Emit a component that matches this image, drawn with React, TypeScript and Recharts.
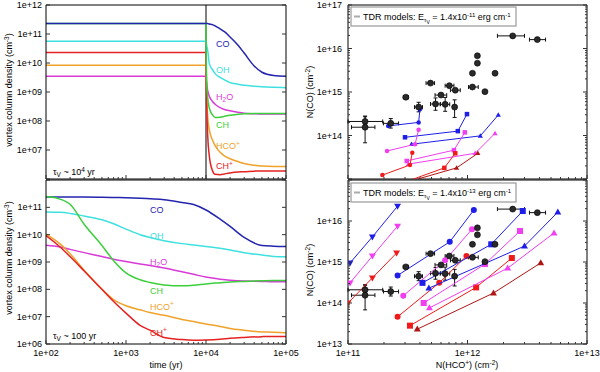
import React from 'react';
import { LineChart, Line, XAxis, YAxis, ReferenceLine, ScatterChart, Scatter, ErrorBar } from 'recharts';

const FONT = "'Liberation Sans', Arial, Helvetica, sans-serif";
const TICK = '#333';

// ---------------- time evolution panels ----------------
const timeTop = [100, 10000, 10050, 10200, 10500, 11000, 12000, 13000, 15000, 17000, 20000, 25000, 30000, 40000, 50000, 70000, 100000];
const coTop = [2.3e11, 2.3e11, 2.3e11, 2.3e11, 2.3e11, 2.2e11, 2.1e11, 1.9e11, 1.5e11, 1.2e11, 7.9e10, 4.2e10, 2.2e10, 7.9e9, 4.8e9, 3.7e9, 3.5e9];
const ohTop = [5.6e10, 5.6e10, 5.2e10, 4.0e10, 2.75e10, 9.5e9, 6.0e9, 4.3e9, 3.2e9, 2.6e9, 2.1e9, 1.86e9, 1.7e9, 1.58e9, 1.51e9, 1.45e9, 1.41e9];
const h2oTop = [3.5e9, 3.5e9, 2.8e9, 1.8e9, 1.12e9, 7.1e8, 4.8e8, 3.8e8, 2.9e8, 2.5e8, 2.24e8, 2.0e8, 1.86e8, 1.78e8, 1.74e8, 1.74e8, 1.74e8];
const chTop = [2.3e11, 2.3e11, 2.0e10, 2.5e9, 6.3e8, 2.8e8, 1.66e8, 1.32e8, 1.35e8, 1.45e8, 1.58e8, 1.7e8, 1.78e8, 1.82e8, 1.82e8, 1.82e8, 1.82e8];
const hcoTop = [8.3e9, 8.3e9, 4.0e9, 6.3e8, 1.41e8, 5.0e7, 2.24e7, 1.41e7, 8.3e6, 6.3e6, 5.0e6, 4.0e6, 3.4e6, 3.0e6, 2.8e6, 2.7e6, 2.7e6];
const chpTop = [2.3e10, 2.3e10, 6.3e9, 4.0e8, 3.2e7, 6.3e6, 2.0e6, 1.45e6, 1.41e6, 1.5e6, 1.62e6, 1.74e6, 1.78e6, 1.86e6, 1.9e6, 1.9e6, 1.9e6];

const timeBot = [100, 150, 200, 300, 500, 700, 1000, 1500, 2000, 3000, 5000, 7000, 10000, 15000, 20000, 30000, 50000, 70000, 100000];
const coBot = [2.4e11, 2.4e11, 2.4e11, 2.4e11, 2.35e11, 2.3e11, 2.25e11, 2.15e11, 2.05e11, 1.9e11, 1.5e11, 1.26e11, 8.0e10, 3.7e10, 2.0e10, 7.9e9, 4.0e9, 3.8e9, 3.7e9];
const ohBot = [6.8e10, 6.6e10, 6.0e10, 4.8e10, 3.5e10, 2.5e10, 1.6e10, 1.0e10, 7.9e9, 6.0e9, 4.7e9, 4.2e9, 3.7e9, 3.2e9, 2.75e9, 2.2e9, 1.8e9, 1.6e9, 1.55e9];
const h2oBot = [4.1e9, 3.55e9, 2.9e9, 2.2e9, 1.58e9, 1.26e9, 1.05e9, 8.5e8, 7.4e8, 6.0e8, 4.4e8, 3.55e8, 2.8e8, 2.35e8, 2.15e8, 2.0e8, 1.95e8, 1.9e8, 1.9e8];
const chBot = [2.5e11, 2.0e11, 1.3e11, 2.4e10, 4.0e9, 1.12e9, 4.0e8, 2.24e8, 1.78e8, 1.45e8, 1.35e8, 1.41e8, 1.58e8, 1.74e8, 1.86e8, 1.95e8, 2.05e8, 2.1e8, 2.1e8];
const hcoBot = [1.05e10, 4.6e9, 2.0e9, 5.0e8, 1.0e8, 4.2e7, 2.5e7, 1.78e7, 1.41e7, 1.12e7, 7.9e6, 6.6e6, 5.4e6, 4.4e6, 3.7e6, 3.2e6, 2.75e6, 2.7e6, 2.6e6];
const chpBot = [9.3e9, 3.55e9, 1.58e9, 4.7e8, 1.0e8, 3.6e7, 1.35e7, 4.8e6, 3.2e6, 1.74e6, 1.45e6, 1.38e6, 1.41e6, 1.5e6, 1.62e6, 1.74e6, 1.86e6, 1.9e6, 1.9e6];

// ---------------- tick definitions ----------------
const LEFT_X_MAJOR = [100, 1000, 10000, 100000];
const LEFT_X_LABELS = ['1e+02', '1e+03', '1e+04', '1e+05'];
const LEFT_X_MINOR = [200, 300, 400, 500, 600, 700, 800, 900, 2000, 3000, 4000, 5000, 6000, 7000, 8000, 9000, 20000, 30000, 40000, 50000, 60000, 70000, 80000, 90000];
const LEFT_Y_MAJOR = [1e6, 1e7, 1e8, 1e9, 1e10, 1e11, 1e12];
const TOP_LEFT_Y_LABELS = ['', '1e+07', '1e+08', '1e+09', '1e+10', '1e+11', '1e+12'];
const BOT_LEFT_Y_LABELS = ['1e+06', '1e+07', '1e+08', '1e+09', '1e+10', '1e+11', ''];

const RIGHT_X_MAJOR = [1e11, 1e12, 1e13];
const RIGHT_X_LABELS = ['1e+11', '1e+12', '1e+13'];
const RIGHT_X_MINOR = [2e11, 3e11, 4e11, 5e11, 6e11, 7e11, 8e11, 9e11, 2e12, 3e12, 4e12, 5e12, 6e12, 7e12, 8e12, 9e12];
const RIGHT_Y_MAJOR = [1e13, 1e14, 1e15, 1e16, 1e17];
const TOP_RIGHT_Y_LABELS = ['', '1e+14', '1e+15', '1e+16', '1e+17'];
const BOT_RIGHT_Y_LABELS = ['1e+13', '1e+14', '1e+15', '1e+16', ''];
const RIGHT_Y_MINOR = [2e13, 3e13, 4e13, 5e13, 6e13, 7e13, 8e13, 9e13, 2e14, 3e14, 4e14, 5e14, 6e14, 7e14, 8e14, 9e14, 2e15, 3e15, 4e15, 5e15, 6e15, 7e15, 8e15, 9e15, 2e16, 3e16, 4e16, 5e16, 6e16, 7e16, 8e16, 9e16];

// ---------------- observations ----------------
const obsX = [1.39e11, 1.39e11, 2.28e11, 3.05e11, 3.9e11, 4.9e11, 5.4e11, 6.0e11, 6.5e11, 7.05e11, 7.9e11, 7.8e11, 1.1e12, 1.1e12, 1.21e12, 1.21e12, 1.4e12, 1.7e12, 2.39e12, 3.84e12];
const obsY = [2.1e14, 1.55e14, 1.9e14, 7.6e14, 4.5e14, 1.6e15, 5.3e14, 8.5e14, 5.2e14, 1.4e15, 1.1e15, 4.5e14, 2.7e15, 1.3e15, 6.8e15, 4.6e15, 1.02e15, 2.7e15, 1.95e16, 1.6e16];
const obsXLo = [1.0e11, 1.07e11, 1.98e11, 2.9e11, 3.6e11, 4.5e11, 4.9e11, 5.35e11, 5.9e11, 6.5e11, 7.2e11, 7.5e11, 1.1e12, 1.02e12, 1.21e12, 1.21e12, 1.4e12, 1.7e12, 1.78e12, 3.3e12];
const obsXHi = [1.95e11, 1.68e11, 2.65e11, 3.2e11, 4.2e11, 5.3e11, 5.95e11, 6.7e11, 7.1e11, 7.7e11, 8.7e11, 8.1e11, 1.1e12, 1.23e12, 1.21e12, 1.21e12, 1.4e12, 1.7e12, 3.0e12, 4.5e12];
const obsYLo = [1.75e14, 6.8e13, 1.48e14, 7.6e14, 3.5e14, 1.6e15, 3.8e14, 8.5e14, 3.6e14, 1.4e15, 1.1e15, 2.6e14, 2.7e15, 1.3e15, 6.8e15, 4.6e15, 1.02e15, 2.7e15, 1.95e16, 1.6e16];
const obsYHi = [2.7e14, 2.8e14, 2.45e14, 7.6e14, 5.8e14, 1.6e15, 7.3e14, 8.5e14, 7.5e14, 1.4e15, 1.1e15, 6.6e14, 2.7e15, 1.3e15, 6.8e15, 4.6e15, 1.02e15, 2.7e15, 1.95e16, 1.6e16];

// ---------------- TDR models, E = 1.4e-11 ----------------
const hiBlueCircle = [{ x: 2.17e11, y: 1.66e14 }, { x: 3.9e11, y: 2.0e14 }, { x: 4.0e11, y: 4.0e14 }];
const hiBlueSquare = [{ x: 3.0e11, y: 9.1e13 }, { x: 8.3e11, y: 1.26e14 }, { x: 9.9e11, y: 3.1e14 }];
const hiBlueTri = [{ x: 3.4e11, y: 6.3e13 }, { x: 1.28e12, y: 9.8e13 }, { x: 1.81e12, y: 2.96e14 }];
const hiMagCircle = [{ x: 2.12e11, y: 4.4e13 }, { x: 3.64e11, y: 6.3e13 }, { x: 3.9e11, y: 1.35e14 }];
const hiMagSquare = [{ x: 3.1e11, y: 2.6e13 }, { x: 7.7e11, y: 4.6e13 }, { x: 9.5e11, y: 1.18e14 }];
const hiMagTri = [{ x: 3.2e11, y: 2.2e13 }, { x: 1.16e12, y: 3.9e13 }, { x: 1.7e12, y: 1.12e14 }];
const hiRedCircle = [{ x: 1.94e11, y: 1.23e13 }, { x: 3.3e11, y: 2.1e13 }, { x: 3.45e11, y: 4.0e13 }];
const hiRedSquare = [{ x: 3.0e11, y: 8.5e12 }, { x: 6.4e11, y: 1.8e13 }, { x: 7.9e11, y: 3.9e13 }];
const hiDkRedTri = [{ x: 2.9e11, y: 8.0e12 }, { x: 8.1e11, y: 1.8e13 }, { x: 1.22e12, y: 3.9e13 }];

// ---------------- TDR models, E = 1.4e-13 ----------------
const loBlueInv = [{ x: 1.04e11, y: 9.5e14 }, { x: 1.6e11, y: 4.1e15 }, { x: 2.6e11, y: 2.3e16 }];
const loMagInv = [{ x: 1.04e11, y: 3.1e14 }, { x: 1.6e11, y: 1.4e15 }, { x: 2.6e11, y: 7.5e15 }];
const loRedInv = [{ x: 1.0e11, y: 1.0e14 }, { x: 1.6e11, y: 4.1e14 }, { x: 2.55e11, y: 1.66e15 }];
const loBlueCircle = [{ x: 2.6e11, y: 4.7e14 }, { x: 7.1e11, y: 3.1e15 }, { x: 1.13e12, y: 1.85e16 }];
const loMagCircle = [{ x: 2.9e11, y: 1.5e14 }, { x: 6.5e11, y: 1.1e15 }, { x: 1.09e12, y: 6.3e15 }];
const loRedCircle = [{ x: 2.6e11, y: 4.6e13 }, { x: 5.8e11, y: 3.1e14 }, { x: 9.8e11, y: 1.4e15 }];
const loBlueSquare = [{ x: 4.2e11, y: 3.1e14 }, { x: 1.58e12, y: 2.7e15 }, { x: 2.9e12, y: 1.75e16 }];
const loMagSquare = [{ x: 4.3e11, y: 1.0e14 }, { x: 1.4e12, y: 8.9e14 }, { x: 2.75e12, y: 5.7e15 }];
const loRedSquare = [{ x: 3.3e11, y: 2.8e13 }, { x: 1.18e12, y: 2.4e14 }, { x: 2.35e12, y: 1.25e15 }];
const loBlueTri = [{ x: 4.75e11, y: 2.3e14 }, { x: 3.0e12, y: 2.45e15 }, { x: 5.7e12, y: 1.65e16 }];
const loMagTri = [{ x: 4.8e11, y: 7.6e13 }, { x: 2.17e12, y: 7.1e14 }, { x: 5.3e12, y: 5.1e15 }];
const loDkRedTri = [{ x: 3.8e11, y: 2.3e13 }, { x: 1.65e12, y: 1.75e14 }, { x: 4.1e12, y: 9.5e14 }];

// ---------------- styles ----------------
const C_CO = '#2424ae';
const C_OH = '#3fe0e0';
const C_H2O = '#d83ad8';
const C_CH = '#3ccf3c';
const C_HCO = '#f0a22a';
const C_CHP = '#e52222';
const BLUE = '#1e1ee8';
const MAG = '#f03ef0';
const RED = '#f01a1a';
const DKRED = '#b01515';

const topRows = timeTop.map((t, i) => ({ t, CO: coTop[i], OH: ohTop[i], H2O: h2oTop[i], CH: chTop[i], HCO: hcoTop[i], CHP: chpTop[i] }));
const botRows = timeBot.map((t, i) => ({ t, CO: coBot[i], OH: ohBot[i], H2O: h2oBot[i], CH: chBot[i], HCO: hcoBot[i], CHP: chpBot[i] }));
const obsRows = obsX.map((x, i) => ({
  x,
  y: obsY[i],
  ex: [x - obsXLo[i], obsXHi[i] - x],
  ey: [obsY[i] - obsYLo[i], obsYHi[i] - obsY[i]],
}));

type Side = 'bottom' | 'top' | 'left' | 'right';

const mkTick = (side: Side, majors: number[], labels: string[] | null, labelGap: number) => (p: any) => {
  const x = Number(p.x);
  const y = Number(p.y);
  const v = Number(p.payload && p.payload.value);
  const idx = majors.findIndex((m) => Math.abs(m - v) <= m * 1e-9);
  const L = idx >= 0 ? 4 : 2;
  const lbl = idx >= 0 && labels ? labels[idx] : '';
  if (side === 'bottom') {
    return (
      <g>
        <line x1={x} y1={y} x2={x} y2={y - L} stroke={TICK} strokeWidth={1} />
        {lbl ? (
          <text x={x} y={y + labelGap} textAnchor="middle" fontSize={9} fontFamily={FONT} fill="#000">{lbl}</text>
        ) : null}
      </g>
    );
  }
  if (side === 'top') {
    return <line x1={x} y1={y} x2={x} y2={y + L} stroke={TICK} strokeWidth={1} />;
  }
  if (side === 'left') {
    return (
      <g>
        <line x1={x} y1={y} x2={x + L} y2={y} stroke={TICK} strokeWidth={1} />
        {lbl ? (
          <text x={x - labelGap} y={y + 3} textAnchor="end" fontSize={9} fontFamily={FONT} fill="#000">{lbl}</text>
        ) : null}
      </g>
    );
  }
  return <line x1={x} y1={y} x2={x - L} y2={y} stroke={TICK} strokeWidth={1} />;
};

const axisCommon = {
  type: 'number' as const,
  scale: 'log' as const,
  allowDataOverflow: true,
  interval: 0 as const,
  tickSize: 0,
  tickMargin: 0,
  tickLine: false,
  axisLine: { stroke: '#000', strokeWidth: 1 },
};

function TimePanel({ rows, yLabels, bottomH, showXLabels, vline, coOnTop }: any) {
  const xTicks = [...LEFT_X_MAJOR, ...LEFT_X_MINOR];
  const height = bottomH === 1 ? 180 : 193;
  const series = [
    { k: 'OH', c: C_OH },
    { k: 'H2O', c: C_H2O },
    { k: 'HCO', c: C_HCO },
    { k: 'CHP', c: C_CHP },
  ];
  return (
    <LineChart width={300} height={height} data={rows} margin={{ top: bottomH === 1 ? 4 : 0, right: 13, bottom: 0, left: 0 }}>
      <XAxis xAxisId="b" dataKey="t" domain={[100, 100000]} ticks={xTicks} height={bottomH}
        tick={mkTick('bottom', LEFT_X_MAJOR, showXLabels ? LEFT_X_LABELS : null, 12)} {...axisCommon} />
      <XAxis xAxisId="t" orientation="top" domain={[100, 100000]} ticks={xTicks} height={1}
        tick={mkTick('top', LEFT_X_MAJOR, null, 0)} {...axisCommon} />
      <YAxis yAxisId="l" domain={[1e6, 1e12]} ticks={LEFT_Y_MAJOR} width={46}
        tick={mkTick('left', LEFT_Y_MAJOR, yLabels, 4)} {...axisCommon} />
      <YAxis yAxisId="r" orientation="right" domain={[1e6, 1e12]} ticks={LEFT_Y_MAJOR} width={1}
        tick={mkTick('right', LEFT_Y_MAJOR, null, 0)} {...axisCommon} />
      {vline ? <ReferenceLine xAxisId="b" yAxisId="l" x={10000} stroke="#000" strokeWidth={1} /> : null}
      {series.map((s) => (
        <Line key={s.k} xAxisId="b" yAxisId="l" type="monotone" dataKey={s.k} stroke={s.c} strokeWidth={1.5} dot={false} isAnimationActive={false} />
      ))}
      {coOnTop ? (
        <Line xAxisId="b" yAxisId="l" type="monotone" dataKey="CH" stroke={C_CH} strokeWidth={1.5} dot={false} isAnimationActive={false} />
      ) : null}
      <Line xAxisId="b" yAxisId="l" type="monotone" dataKey="CO" stroke={C_CO} strokeWidth={1.5} dot={false} isAnimationActive={false} />
      {!coOnTop ? (
        <Line xAxisId="b" yAxisId="l" type="monotone" dataKey="CH" stroke={C_CH} strokeWidth={1.5} dot={false} isAnimationActive={false} />
      ) : null}
    </LineChart>
  );
}

function Marker({ cx, cy, kind, s, color }: any) {
  if (cx == null || cy == null || !isFinite(cx) || !isFinite(cy)) return null;
  const h = s / 2;
  if (kind === 'circle') return <circle cx={cx} cy={cy} r={h} fill={color} />;
  if (kind === 'square') return <rect x={cx - h} y={cy - h} width={s} height={s} fill={color} />;
  if (kind === 'tri')
    return <path d={`M${cx},${cy - h * 1.2} L${cx + h * 1.15},${cy + h * 0.8} L${cx - h * 1.15},${cy + h * 0.8} Z`} fill={color} />;
  return <path d={`M${cx},${cy + h * 1.2} L${cx + h * 1.15},${cy - h * 0.8} L${cx - h * 1.15},${cy - h * 0.8} Z`} fill={color} />;
}

const hiModels = [
  { d: hiBlueCircle, k: 'circle', c: BLUE },
  { d: hiBlueSquare, k: 'square', c: BLUE },
  { d: hiBlueTri, k: 'tri', c: BLUE },
  { d: hiMagCircle, k: 'circle', c: MAG },
  { d: hiMagSquare, k: 'square', c: MAG },
  { d: hiMagTri, k: 'tri', c: MAG },
  { d: hiRedCircle, k: 'circle', c: RED },
  { d: hiRedSquare, k: 'square', c: RED },
  { d: hiDkRedTri, k: 'tri', c: DKRED },
];

const loModels = [
  { d: loBlueInv, k: 'inv', c: BLUE },
  { d: loMagInv, k: 'inv', c: MAG },
  { d: loRedInv, k: 'inv', c: RED },
  { d: loBlueCircle, k: 'circle', c: BLUE },
  { d: loMagCircle, k: 'circle', c: MAG },
  { d: loRedCircle, k: 'circle', c: RED },
  { d: loBlueSquare, k: 'square', c: BLUE },
  { d: loMagSquare, k: 'square', c: MAG },
  { d: loRedSquare, k: 'square', c: RED },
  { d: loBlueTri, k: 'tri', c: BLUE },
  { d: loMagTri, k: 'tri', c: MAG },
  { d: loDkRedTri, k: 'tri', c: DKRED },
];

function ColumnPanel({ models, yLabels, bottomH, showXLabels, ms }: any) {
  const xTicks = [...RIGHT_X_MAJOR, ...RIGHT_X_MINOR];
  const yTicks = [...RIGHT_Y_MAJOR, ...RIGHT_Y_MINOR];
  const height = bottomH === 1 ? 180 : 193;
  return (
    <ScatterChart width={300} height={height} margin={{ top: bottomH === 1 ? 4 : 0, right: 12, bottom: 0, left: 0 }}>
      <XAxis xAxisId="b" dataKey="x" domain={[1e11, 1e13]} ticks={xTicks} height={bottomH}
        tick={mkTick('bottom', RIGHT_X_MAJOR, showXLabels ? RIGHT_X_LABELS : null, 12)} {...axisCommon} />
      <XAxis xAxisId="t" orientation="top" domain={[1e11, 1e13]} ticks={xTicks} height={1}
        tick={mkTick('top', RIGHT_X_MAJOR, null, 0)} {...axisCommon} />
      <YAxis yAxisId="l" dataKey="y" domain={[1e13, 1e17]} ticks={yTicks} width={48}
        tick={mkTick('left', RIGHT_Y_MAJOR, yLabels, 6)} {...axisCommon} />
      <YAxis yAxisId="r" orientation="right" domain={[1e13, 1e17]} ticks={yTicks} width={1}
        tick={mkTick('right', RIGHT_Y_MAJOR, null, 0)} {...axisCommon} />
      {models.map((m: any, i: number) => (
        <Scatter key={i} xAxisId="b" yAxisId="l" data={m.d} line={{ stroke: m.c, strokeWidth: 1 }} lineType="joint"
          shape={(p: any) => <Marker cx={p.cx} cy={p.cy} kind={m.k} s={ms} color={m.c} />} isAnimationActive={false} />
      ))}
      <Scatter xAxisId="b" yAxisId="l" data={obsRows} isAnimationActive={false}
        shape={(p: any) => (p.cx == null ? null : <circle cx={p.cx} cy={p.cy} r={3} fill="#2a2a2a" stroke="#000" strokeWidth={0.6} />)}>
        <ErrorBar dataKey="ex" direction="x" width={2} stroke="#111" strokeWidth={1} />
        <ErrorBar dataKey="ey" direction="y" width={2} stroke="#111" strokeWidth={1} />
      </Scatter>
    </ScatterChart>
  );
}

const SUP = 6.5;

function Overlay() {
  const lbl = (x: number, y: number, color: string, content: React.ReactNode) => (
    <text x={x} y={y} fill={color} fontSize={9} fontFamily={FONT}>{content}</text>
  );
  const h2o = (<>H<tspan fontSize={SUP} dy={2}>2</tspan><tspan dy={-2}>O</tspan></>);
  const hco = (<>HCO<tspan fontSize={SUP} dy={-3.5}>+</tspan></>);
  const chp = (<>CH<tspan fontSize={SUP} dy={-3.5}>+</tspan></>);
  const legend = (y0: number, exp: string) => (
    <g>
      <rect x={351} y={y0} width={165} height={19} fill="#fff" stroke="#999" strokeWidth={1.2} />
      <line x1={354} x2={360} y1={y0 + 9.5} y2={y0 + 9.5} stroke="#aaa" strokeWidth={2} />
      <text x={363} y={y0 + 13} fontSize={9} fontFamily={FONT} fill="#000">
        TDR models: E<tspan fontSize={6} dy={2}>τ</tspan><tspan fontSize={5} dy={1.5}>V</tspan>
        <tspan dy={-3.5}> = 1.4x10</tspan><tspan fontSize={6} dy={-3.5}>{exp}</tspan>
        <tspan dy={3.5}> erg cm</tspan><tspan fontSize={6} dy={-3.5}>-1</tspan>
      </text>
    </g>
  );
  return (
    <svg width={600} height={372} style={{ position: 'absolute', left: 0, top: 0, pointerEvents: 'none' }}>
      {/* axis titles */}
      <text transform="translate(12,90) rotate(-90)" textAnchor="middle" fontSize={9} fontFamily={FONT} fill="#000">
        vortex column density (cm<tspan fontSize={SUP} dy={-3}>-3</tspan><tspan dy={3}>)</tspan>
      </text>
      <text transform="translate(12,258) rotate(-90)" textAnchor="middle" fontSize={9} fontFamily={FONT} fill="#000">
        vortex column density (cm<tspan fontSize={SUP} dy={-3}>-3</tspan><tspan dy={3}>)</tspan>
      </text>
      <text transform="translate(313,92) rotate(-90)" textAnchor="middle" fontSize={9} fontFamily={FONT} fill="#000">
        N(CO) (cm<tspan fontSize={SUP} dy={-3}>-2</tspan><tspan dy={3}>)</tspan>
      </text>
      <text transform="translate(313,270) rotate(-90)" textAnchor="middle" fontSize={9} fontFamily={FONT} fill="#000">
        N(CO) (cm<tspan fontSize={SUP} dy={-3}>-2</tspan><tspan dy={3}>)</tspan>
      </text>
      <text x={166} y={368} textAnchor="middle" fontSize={9} fontFamily={FONT} fill="#000">time (yr)</text>
      <text x={467} y={368} textAnchor="middle" fontSize={9} fontFamily={FONT} fill="#000">
        N(HCO<tspan fontSize={SUP} dy={-3}>+</tspan><tspan dy={3}>) (cm</tspan><tspan fontSize={SUP} dy={-3}>-2</tspan><tspan dy={3}>)</tspan>
      </text>

      {/* species labels, top-left */}
      {lbl(216, 46.5, C_CO, 'CO')}
      {lbl(216, 72.5, C_OH, 'OH')}
      {lbl(216, 100, C_H2O, h2o)}
      {lbl(216, 127.5, C_CH, 'CH')}
      {lbl(216, 149, C_HCO, hco)}
      {lbl(216, 169, C_CHP, chp)}
      <text x={53} y={175} fontSize={9} fontFamily={FONT} fill="#000">
        τ<tspan fontSize={SUP} dy={2}>V</tspan><tspan dy={-2}> ~ 10</tspan><tspan fontSize={SUP} dy={-3.5}>4</tspan><tspan dy={3.5}> yr</tspan>
      </text>

      {/* species labels, bottom-left */}
      {lbl(150, 212.5, C_CO, 'CO')}
      {lbl(150, 238.5, C_OH, 'OH')}
      {lbl(150, 265, C_H2O, h2o)}
      {lbl(150, 293.5, C_CH, 'CH')}
      {lbl(150, 309.5, C_HCO, hco)}
      {lbl(150, 335.5, C_CHP, chp)}
      <text x={53} y={339} fontSize={9} fontFamily={FONT} fill="#000">
        τ<tspan fontSize={SUP} dy={2}>V</tspan><tspan dy={-2}> ~ 100 yr</tspan>
      </text>

      {legend(7, '-11')}
      {legend(183, '-13')}
    </svg>
  );
}

export default function App() {
  return (
    <div style={{ position: 'absolute', left: 0, top: 0, width: 600, height: 372, background: '#fff', overflow: 'hidden' }}>
      <div style={{ position: 'absolute', left: 0, top: 0 }}>
        <TimePanel rows={topRows} yLabels={TOP_LEFT_Y_LABELS} bottomH={1} showXLabels={false} vline coOnTop />
      </div>
      <div style={{ position: 'absolute', left: 0, top: 179 }}>
        <TimePanel rows={botRows} yLabels={BOT_LEFT_Y_LABELS} bottomH={28} showXLabels vline={false} coOnTop={false} />
      </div>
      <div style={{ position: 'absolute', left: 300, top: 0 }}>
        <ColumnPanel models={hiModels} yLabels={TOP_RIGHT_Y_LABELS} bottomH={1} showXLabels={false} ms={4.5} />
      </div>
      <div style={{ position: 'absolute', left: 300, top: 179 }}>
        <ColumnPanel models={loModels} yLabels={BOT_RIGHT_Y_LABELS} bottomH={28} showXLabels ms={6} />
      </div>
      <Overlay />
    </div>
  );
}
